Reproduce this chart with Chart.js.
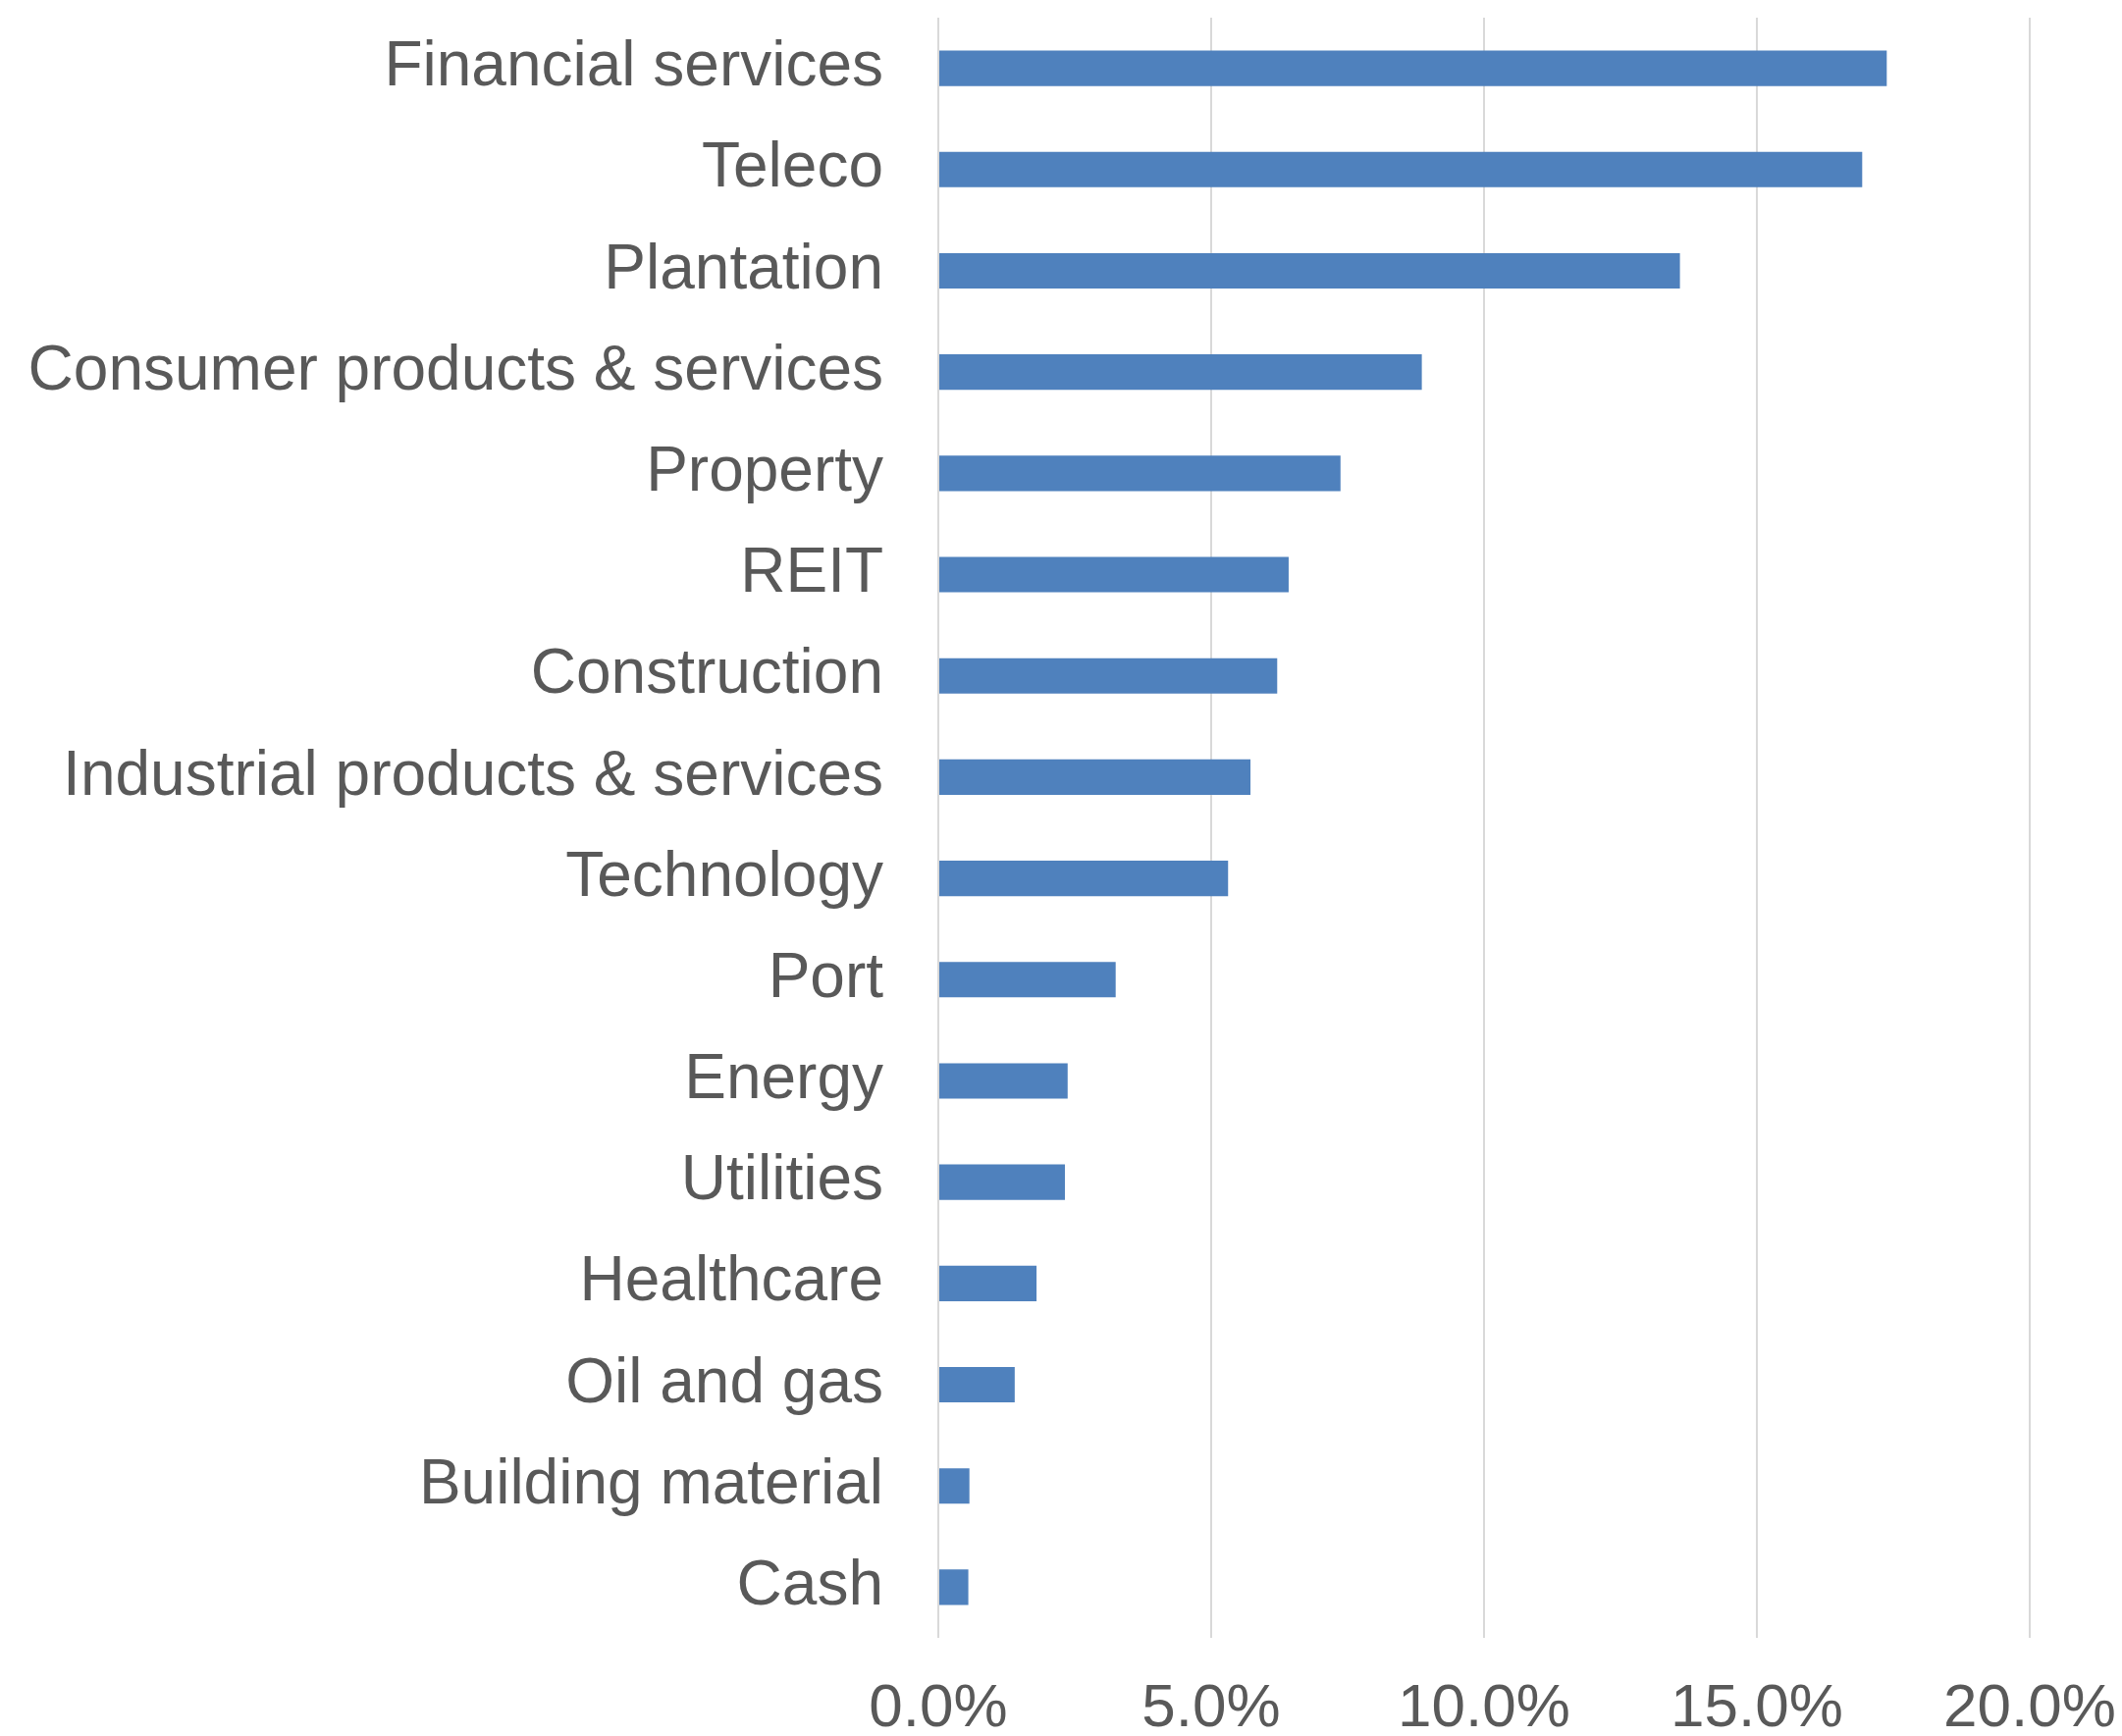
<!DOCTYPE html>
<html>
<head>
<meta charset="utf-8">
<script src="https://cdn.jsdelivr.net/npm/chart.js@4/dist/chart.umd.min.js"></script>
<style>
  html, body { margin: 0; padding: 0; background: #fff; }
  #wrap { width: 2162px; height: 1769px; }
</style>
</head>
<body>
<div id="wrap"><canvas id="chart-sectors" width="2162" height="1769"></canvas></div>
<script>
// ── Dados ───────────────────────────────────────────────────────────────────
const sectors = [
  "Financial services", "Teleco", "Plantation", "Consumer products & services",
  "Property", "REIT", "Construction", "Industrial products & services",
  "Technology", "Port", "Energy", "Utilities", "Healthcare", "Oil and gas",
  "Building material", "Cash",
];
const weights = [
  17.38, 16.93, 13.59, 8.86,
  7.37, 6.42, 6.21, 5.72,
  5.31, 3.25, 2.37, 2.32, 1.80, 1.40,
  0.57, 0.55,
];
const xTicks = [0, 5, 10, 15, 20];

const TEXT  = "#595959";
const GRID  = "#d9d9d9";
const BAR   = "#4f81bd";
const FONT  = "'Liberation Sans', Arial, sans-serif";

// Área do gráfico fixa: sem o padding automático dos rótulos
function fitX(s) {
  s.height = 100;
  s.paddingLeft = 0;
  s.paddingRight = 0;
}
function fitY(s) {
  s.width = 956;
  s.paddingTop = 0;
  s.paddingBottom = 0;
}

new Chart(document.getElementById("chart-sectors"), {
  type: "bar",
  data: {
    labels: sectors,
    datasets: [{
      data: weights,
      backgroundColor: BAR,
      borderWidth: 0,
      categoryPercentage: 1,
      barPercentage: 0.35,
    }],
  },
  options: {
    indexAxis: "y",
    responsive: false,
    animation: false,
    layout: { autoPadding: false, padding: { top: 18, right: 94, left: 0, bottom: 0 } },
    plugins: { legend: { display: false }, tooltip: { enabled: false } },
    scales: {
      x: {
        min: 0,
        max: 20,
        afterBuildTicks: s => { s.ticks = xTicks.map(v => ({ value: v })); },
        afterFit: fitX,
        border: { display: false },
        grid: { color: GRID, lineWidth: 2, drawTicks: false },
        ticks: {
          color: TEXT,
          padding: 36,
          maxRotation: 0,
          font: { family: FONT, size: 62 },
          callback: v => `${Number(v).toFixed(1)}%`,
        },
      },
      y: {
        afterFit: fitY,
        border: { display: false },
        grid: { display: false, drawTicks: false },
        ticks: {
          color: TEXT,
          padding: 56,
          autoSkip: false,
          font: { family: FONT, size: 64 },
        },
      },
    },
  },
});
</script>
</body>
</html>
